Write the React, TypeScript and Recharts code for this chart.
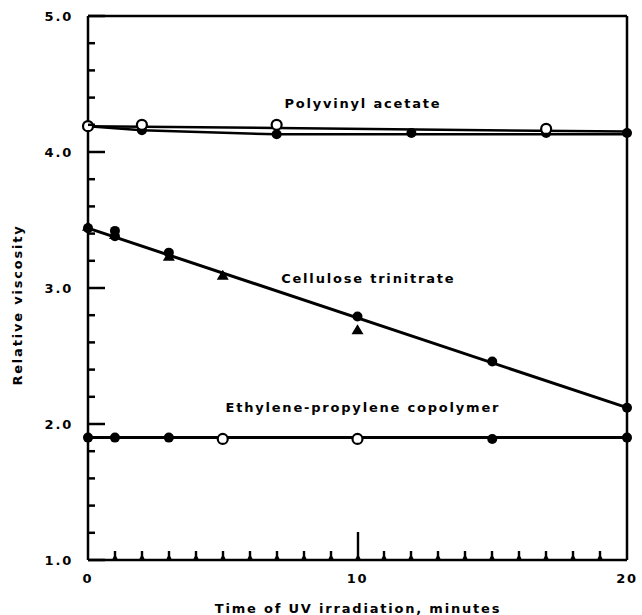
import {
  ComposedChart,
  Line,
  Scatter,
  XAxis,
  YAxis,
  ReferenceLine,
  ReferenceDot,
} from "recharts";

const FONT = "'DejaVu Sans', sans-serif";

// axis ticks
const xTicks = [0, 1, 2, 3, 4, 5, 6, 7, 8, 9, 10, 11, 12, 13, 14, 15, 16, 17, 18, 19, 20];
const xLabelTicks = [0, 10, 20];
const yTicks = [1.0, 1.2, 1.4, 1.6, 1.8, 2.0, 2.2, 2.4, 2.6, 2.8, 3.0, 3.2, 3.4, 3.6, 3.8, 4.0, 4.2, 4.4, 4.6, 4.8, 5.0];
const yLabelTicks = [1, 2, 3, 4, 5];

// Polyvinyl acetate
const pvaUpperLine = [
  { x: 0, y: 4.19 },
  { x: 20, y: 4.15 },
];
const pvaLowerLine = [
  { x: 0, y: 4.19 },
  { x: 2, y: 4.16 },
  { x: 7, y: 4.13 },
  { x: 20, y: 4.13 },
];
const pvaOpen = [
  { x: 0, y: 4.19 },
  { x: 2, y: 4.2 },
  { x: 7, y: 4.2 },
  { x: 17, y: 4.17 },
];
const pvaFilled = [
  { x: 2, y: 4.16 },
  { x: 7, y: 4.13 },
  { x: 12, y: 4.14 },
  { x: 17, y: 4.14 },
  { x: 20, y: 4.14 },
];

// Cellulose trinitrate
const ctnLine = [
  { x: 0, y: 3.44 },
  { x: 20, y: 2.12 },
];
const ctnCircles = [
  { x: 0, y: 3.44 },
  { x: 1, y: 3.42 },
  { x: 1, y: 3.38 },
  { x: 3, y: 3.26 },
  { x: 10, y: 2.79 },
  { x: 15, y: 2.46 },
  { x: 20, y: 2.12 },
];
const ctnTriangles = [
  { x: 0, y: 3.45 },
  { x: 1, y: 3.39 },
  { x: 3, y: 3.23 },
  { x: 5, y: 3.09 },
  { x: 10, y: 2.69 },
];

// Ethylene-propylene copolymer
const epLine = [
  { x: 0, y: 1.9 },
  { x: 20, y: 1.9 },
];
const epFilled = [
  { x: 0, y: 1.9 },
  { x: 1, y: 1.9 },
  { x: 3, y: 1.9 },
  { x: 15, y: 1.89 },
  { x: 20, y: 1.9 },
];
const epOpen = [
  { x: 5, y: 1.89 },
  { x: 10, y: 1.89 },
];

const textStyle = {
  fill: "#000",
  fontSize: 13,
  fontWeight: "bold",
  fontFamily: FONT,
  letterSpacing: 1.8,
};

function YTick(props: any) {
  const { x, y, payload } = props;
  const v = payload.value;
  const major = yLabelTicks.some((t) => Math.abs(t - v) < 1e-6);
  const ax = x + 15;
  return (
    <g>
      <path d={`M${ax},${y} h${major ? 17 : 7}`} stroke="#000" strokeWidth={2.5} />
      {major && (
        <text x={x} y={y} dy={5} textAnchor="end" {...textStyle}>
          {v.toFixed(1)}
        </text>
      )}
    </g>
  );
}

// minor ticks point up into the plot, long one at 10
function XTick(props: any) {
  const { x, y, payload } = props;
  const v = Number(payload.value);
  const ay = y - 18;
  let len = 9;
  if (v === 10) len = 28;
  if (v === 0 || v === 20) len = 0;
  const cx = Math.round(x);
  return (
    <g>
      {len > 0 && (
        <path
          d={`M${cx - 3},${ay} L${cx - 1.2},${ay - 4} L${cx - 1.2},${ay - len} L${cx + 1.2},${ay - len} L${cx + 1.2},${ay - 4} L${cx + 3},${ay} Z`}
          fill="#000"
          stroke="none"
        />
      )}
      {xLabelTicks.includes(v) && (
        <text x={x} y={y} dy={5} textAnchor="middle" {...textStyle}>
          {v}
        </text>
      )}
    </g>
  );
}

const filledDot = (p: any) => <circle cx={p.cx} cy={p.cy} r={5} fill="#000" />;
const openDot = (p: any) => (
  <circle cx={p.cx} cy={p.cy} r={5} fill="#fff" stroke="#000" strokeWidth={2.2} />
);
const triangleDot = (p: any) => (
  <path d={`M${p.cx},${p.cy - 6} L${p.cx + 6},${p.cy + 4} L${p.cx - 6},${p.cy + 4} Z`} fill="#000" />
);

export default function App() {
  return (
    <div style={{ position: "absolute", left: 0, top: 0, background: "#fff" }}>
      <ComposedChart width={642} height={615} margin={{ top: 16, right: 15, bottom: 25, left: 18 }}>
        <XAxis
          dataKey="x"
          type="number"
          domain={[0, 20]}
          ticks={xTicks}
          interval={0}
          minTickGap={0}
          tickSize={0}
          tickMargin={18}
          tick={<XTick />}
          height={30}
          axisLine={{ stroke: "#000", strokeWidth: 2.5 }}
        />
        <YAxis
          type="number"
          domain={[1, 5]}
          ticks={yTicks}
          interval={0}
          tickSize={0}
          tickMargin={15}
          tick={<YTick />}
          width={70}
          axisLine={{ stroke: "#000", strokeWidth: 2.5 }}
        />
        <ReferenceLine y={5} stroke="#000" strokeWidth={2.5} />
        <ReferenceLine x={20} stroke="#000" strokeWidth={2.5} />

        <Line data={pvaUpperLine} dataKey="y" stroke="#000" strokeWidth={2.5} dot={false} isAnimationActive={false} />
        <Line data={pvaLowerLine} dataKey="y" stroke="#000" strokeWidth={2.5} dot={false} isAnimationActive={false} />
        <Line data={ctnLine} dataKey="y" stroke="#000" strokeWidth={3} dot={false} isAnimationActive={false} />
        <Line data={epLine} dataKey="y" stroke="#000" strokeWidth={3} dot={false} isAnimationActive={false} />

        <Scatter data={pvaFilled} dataKey="y" shape={filledDot} isAnimationActive={false} />
        <Scatter data={pvaOpen} dataKey="y" shape={openDot} isAnimationActive={false} />
        <Scatter data={ctnTriangles} dataKey="y" shape={triangleDot} isAnimationActive={false} />
        <Scatter data={ctnCircles} dataKey="y" shape={filledDot} isAnimationActive={false} />
        <Scatter data={epFilled} dataKey="y" shape={filledDot} isAnimationActive={false} />
        <Scatter data={epOpen} dataKey="y" shape={openDot} isAnimationActive={false} />

        <ReferenceDot x={10.2} y={4.36} r={0} stroke="none" label={{ value: "Polyvinyl acetate", position: "center", ...textStyle }} />
        <ReferenceDot x={10.4} y={3.07} r={0} stroke="none" label={{ value: "Cellulose trinitrate", position: "center", ...textStyle }} />
        <ReferenceDot x={10.2} y={2.12} r={0} stroke="none" label={{ value: "Ethylene-propylene copolymer", position: "center", ...textStyle }} />

        <text x={17} y={305} transform="rotate(-90 17 305)" textAnchor="middle" dominantBaseline="central" {...textStyle}>
          Relative viscosity
        </text>
        <text x={358} y={608} textAnchor="middle" dominantBaseline="central" {...textStyle}>
          Time of UV irradiation, minutes
        </text>
      </ComposedChart>
    </div>
  );
}
